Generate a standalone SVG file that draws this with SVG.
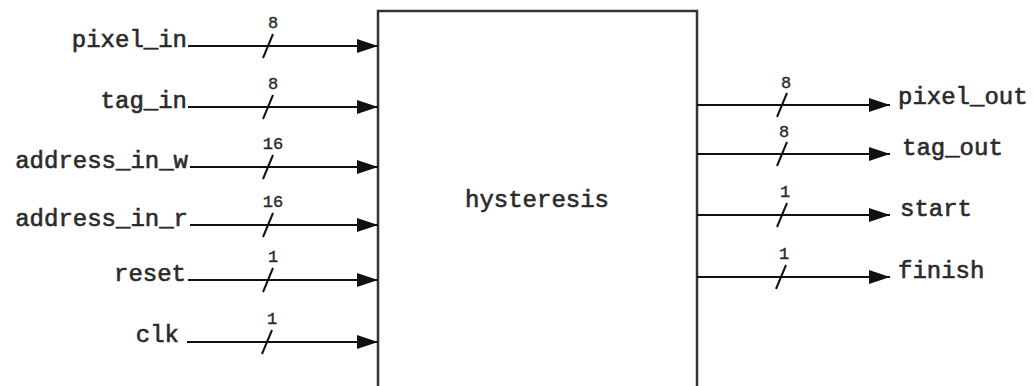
<svg xmlns="http://www.w3.org/2000/svg" width="1033" height="386" viewBox="0 0 1033 386">
  <style>
    .sig { font-family: "Liberation Mono", "DejaVu Sans Mono", monospace; font-size: 24px; fill: #2a2a2a; stroke: #2a2a2a; stroke-width: 0.6; }
    .bw { font-family: "Liberation Mono", "DejaVu Sans Mono", monospace; font-size: 17px; fill: #2a2a2a; stroke: #2a2a2a; stroke-width: 0.4; text-anchor: middle; }
    .wire { stroke: #111; stroke-width: 2; fill: none; }
    .bus { stroke: #111; stroke-width: 2; }
    .block { fill: #fff; stroke: #333; stroke-width: 2.5; }
  </style>
  <defs>
    <marker id="arrow" markerUnits="userSpaceOnUse" markerWidth="22" markerHeight="16" refX="21" refY="8" orient="auto">
      <path d="M0,1 L21,8 L0,15 Z" fill="#111"/>
    </marker>
  </defs>

  <rect width="1033" height="386" fill="#fff"/>

  <!-- main block -->
  <g id="hysteresis">
    <rect class="block" x="378" y="11" width="319" height="400"/>
    <text class="sig" x="537" y="207" text-anchor="middle">hysteresis</text>
  </g>

  <!-- input / output port labels -->
  <g id="pixel_in"><text class="sig" x="187" y="47" text-anchor="end">pixel_in</text></g>
  <g id="tag_in"><text class="sig" x="187" y="108" text-anchor="end">tag_in</text></g>
  <g id="address_in_w"><text class="sig" x="188" y="168" text-anchor="end">address_in_w</text></g>
  <g id="address_in_r"><text class="sig" x="188" y="226" text-anchor="end">address_in_r</text></g>
  <g id="reset"><text class="sig" x="186" y="281" text-anchor="end">reset</text></g>
  <g id="clk"><text class="sig" x="179" y="342" text-anchor="end">clk</text></g>

  <g id="pixel_out"><text class="sig" x="898" y="104">pixel_out</text></g>
  <g id="tag_out"><text class="sig" x="902" y="155">tag_out</text></g>
  <g id="start"><text class="sig" x="900" y="216">start</text></g>
  <g id="finish"><text class="sig" x="898" y="278">finish</text></g>

  <!-- connectors with bus-width slashes -->
  <g id="connectors">
    <line class="wire" x1="188" y1="46" x2="378" y2="46" marker-end="url(#arrow)"/>
    <line class="bus" x1="263" y1="58" x2="273" y2="34"/>
    <text class="bw" x="273" y="28">8</text>

    <line class="wire" x1="188" y1="107" x2="378" y2="107" marker-end="url(#arrow)"/>
    <line class="bus" x1="263" y1="119" x2="273" y2="95"/>
    <text class="bw" x="273" y="89">8</text>

    <line class="wire" x1="190" y1="167" x2="378" y2="167" marker-end="url(#arrow)"/>
    <line class="bus" x1="263" y1="179" x2="273" y2="155"/>
    <text class="bw" x="273" y="149">16</text>

    <line class="wire" x1="190" y1="225" x2="378" y2="225" marker-end="url(#arrow)"/>
    <line class="bus" x1="263" y1="237" x2="273" y2="213"/>
    <text class="bw" x="273" y="207">16</text>

    <line class="wire" x1="188" y1="280" x2="378" y2="280" marker-end="url(#arrow)"/>
    <line class="bus" x1="263" y1="292" x2="273" y2="268"/>
    <text class="bw" x="273" y="262">1</text>

    <line class="wire" x1="187" y1="342" x2="378" y2="342" marker-end="url(#arrow)"/>
    <line class="bus" x1="262" y1="354" x2="272" y2="330"/>
    <text class="bw" x="272" y="324">1</text>

    <line class="wire" x1="697" y1="105" x2="890" y2="105" marker-end="url(#arrow)"/>
    <line class="bus" x1="777" y1="117" x2="787" y2="93"/>
    <text class="bw" x="786" y="88">8</text>

    <line class="wire" x1="697" y1="154" x2="890" y2="154" marker-end="url(#arrow)"/>
    <line class="bus" x1="777" y1="166" x2="787" y2="142"/>
    <text class="bw" x="784" y="137">8</text>

    <line class="wire" x1="697" y1="215" x2="890" y2="215" marker-end="url(#arrow)"/>
    <line class="bus" x1="777" y1="227" x2="787" y2="203"/>
    <text class="bw" x="785" y="197">1</text>

    <line class="wire" x1="697" y1="277" x2="890" y2="277" marker-end="url(#arrow)"/>
    <line class="bus" x1="776" y1="289" x2="786" y2="265"/>
    <text class="bw" x="784" y="259">1</text>
  </g>
</svg>
